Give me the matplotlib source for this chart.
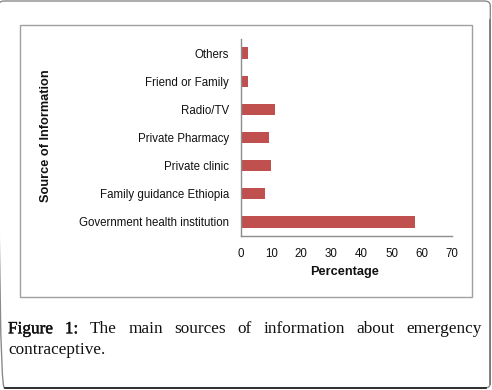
import matplotlib
matplotlib.use("Agg")
import matplotlib.pyplot as plt
from matplotlib.patches import Rectangle, FancyBboxPatch
from matplotlib.lines import Line2D
import matplotlib.patheffects as pe

categories = ["Government health institution", "Family guidance Ethiopia",
              "Private clinic", "Private Pharmacy", "Radio/TV",
              "Friend or Family", "Others"]
values = [57.6, 8.1, 10.0, 9.3, 11.3, 2.4, 2.2]
xticks = [0, 10, 20, 30, 40, 50, 60, 70]
caption_words = ["Figure", "1:", "The", "main", "sources", "of",
                 "information", "about", "emergency"]
caption_line2 = "contraceptive."

W, H = 492, 390
fig = plt.figure(figsize=(W / 100, H / 100), dpi=100)
fig.patch.set_facecolor("white")

def fx(px):
    return px / W

def fy(py):
    return 1 - py / H

# outer rounded frame (left edge falls just outside the picture)
outer = FancyBboxPatch((fx(-1.5), fy(388)), fx(491.8), 387 / H,
                       boxstyle="round,pad=0,rounding_size=0.012",
                       transform=fig.transFigure, fill=False,
                       edgecolor="#8a8a8a", linewidth=1.0, zorder=0)
fig.add_artist(outer)
fig.add_artist(Line2D([fx(5), fx(486)], [fy(388.3), fy(388.3)],
                      transform=fig.transFigure, color="#1a1a1a", lw=1.2))
fig.add_artist(Line2D([fx(490.3), fx(490.3)], [fy(20), fy(384)],
                      transform=fig.transFigure, color="#777777", lw=1.2))

# inner chart box
fig.add_artist(Rectangle((fx(20), fy(297)), fx(452), 272 / H,
                         transform=fig.transFigure, fill=False,
                         edgecolor="#a0a0a0", linewidth=1.0))

ax = fig.add_axes([fx(241), fy(236), fx(211), 197 / H])
ax.barh(range(len(categories)), values, height=0.4, color="#C0504D")
ax.set_xlim(0, 70)
ax.set_ylim(-0.5, len(categories) - 0.5)
ax.set_xticks(xticks)
ax.set_xticklabels([str(t) for t in xticks])
ax.set_yticks(range(len(categories)))
ax.set_yticklabels(categories)
for s in ["top", "right"]:
    ax.spines[s].set_visible(False)
for s in ["left", "bottom"]:
    ax.spines[s].set_color("#8c8c8c")
    ax.spines[s].set_linewidth(1.0)
ax.tick_params(axis="both", length=0, labelsize=8.3,
               labelfontfamily="Liberation Sans", colors="#111111")
ax.tick_params(axis="y", pad=8.5)
ax.tick_params(axis="x", pad=8.5)

ax.set_xlabel("Percentage", fontsize=9.2, fontweight="bold",
              family="Liberation Sans", color="#111111")
ax.xaxis.set_label_coords((345 - 241) / 211, -(266 - 236) / 197)
ax.set_ylabel("Source of Information", fontsize=9.2, fontweight="bold",
              family="Liberation Sans", color="#111111")
ax.yaxis.set_label_coords((46 - 241) / 211, (236 - 136) / 197)
ax.yaxis.label.set_verticalalignment("center")
ax.yaxis.label.set_rotation_mode("anchor")

# caption, justified first line
fig.canvas.draw()
renderer = fig.canvas.get_renderer()
y1 = fy(333.3)
texts = []
for i, w in enumerate(caption_words):
    t = fig.text(0, y1, w, fontsize=12.4, family="Liberation Serif",
                 va="baseline", ha="left", color="#111111")
    if i < 2:
        t.set_path_effects([pe.withStroke(linewidth=0.3, foreground="#111111")])
    texts.append(t)
widths = [t.get_window_extent(renderer).width for t in texts]
left, right = 8, 482
gap = (right - left - sum(widths)) / (len(texts) - 1)
x = left
for t, w in zip(texts, widths):
    t.set_x(fx(x))
    x += w + gap
fig.text(fx(8), fy(354), caption_line2, fontsize=12.4, family="Liberation Serif",
         va="baseline", ha="left", color="#111111")

fig.savefig("out.png", dpi=100, facecolor="white")
